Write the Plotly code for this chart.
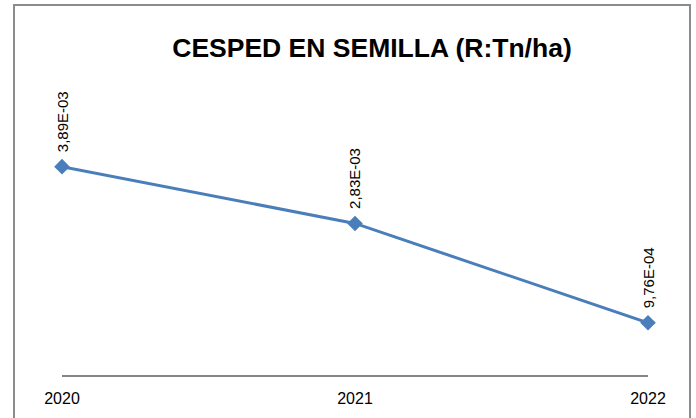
import plotly.graph_objects as go

years = ["2020", "2021", "2022"]
values = [3.89e-3, 2.83e-3, 9.76e-4]
labels = ["3,89E-03", "2,83E-03", "9,76E-04"]
title_text = "CESPED EN SEMILLA (R:Tn/ha)"

W, H = 696, 418
L, R, T, B = 62, 48, 134, 43
pw, ph = W - L - R, H - T - B

fig = go.Figure()
fig.add_trace(go.Scatter(
    x=years, y=values, mode="lines+markers",
    line=dict(color="#4a7ebb", width=3),
    marker=dict(symbol="diamond", size=12, color="#4a7ebb"),
    hoverinfo="skip", showlegend=False, cliponaxis=False,
))

for i, (y, t) in enumerate(zip(values, labels)):
    fig.add_annotation(
        x=i, y=y, text=t, showarrow=False, textangle=-90,
        xanchor="center", yanchor="bottom", yshift=12,
        font=dict(family="Liberation Sans", size=15, color="#000000"),
    )

def px_x(p):
    return (p - L) / pw

def px_y(p):
    return (H - B - p) / ph

fig.add_shape(
    type="rect", xref="paper", yref="paper",
    x0=px_x(14), x1=px_x(690), y0=px_y(425), y1=px_y(5),
    line=dict(color="#8c8c8c", width=2), fillcolor="rgba(0,0,0,0)", layer="below",
)

fig.update_layout(
    width=W, height=H,
    margin=dict(l=L, r=R, t=T, b=B, pad=0, autoexpand=False),
    paper_bgcolor="white", plot_bgcolor="white",
    title=dict(
        text="<b>" + title_text + "</b>",
        x=372 / W, xanchor="center", y=1 - 48 / H, yanchor="middle",
        yref="container", xref="container",
        font=dict(family="Liberation Sans", size=26.5, color="#000000"),
    ),
    xaxis=dict(
        type="category", range=[0, 2], showgrid=False, zeroline=False,
        showline=True, linecolor="#868686", linewidth=1.5, automargin=False,
        ticks="outside", ticklen=8, tickcolor="rgba(0,0,0,0)",
        tickfont=dict(family="Liberation Sans", size=16, color="#000000"),
    ),
    yaxis=dict(
        range=[0, 4.5e-3], showgrid=False, zeroline=False, showline=False,
        showticklabels=False, ticks="", automargin=False,
    ),
)

fig.write_html("out.html", post_script="document.body.style.margin='0';",
               config={"displayModeBar": False})
